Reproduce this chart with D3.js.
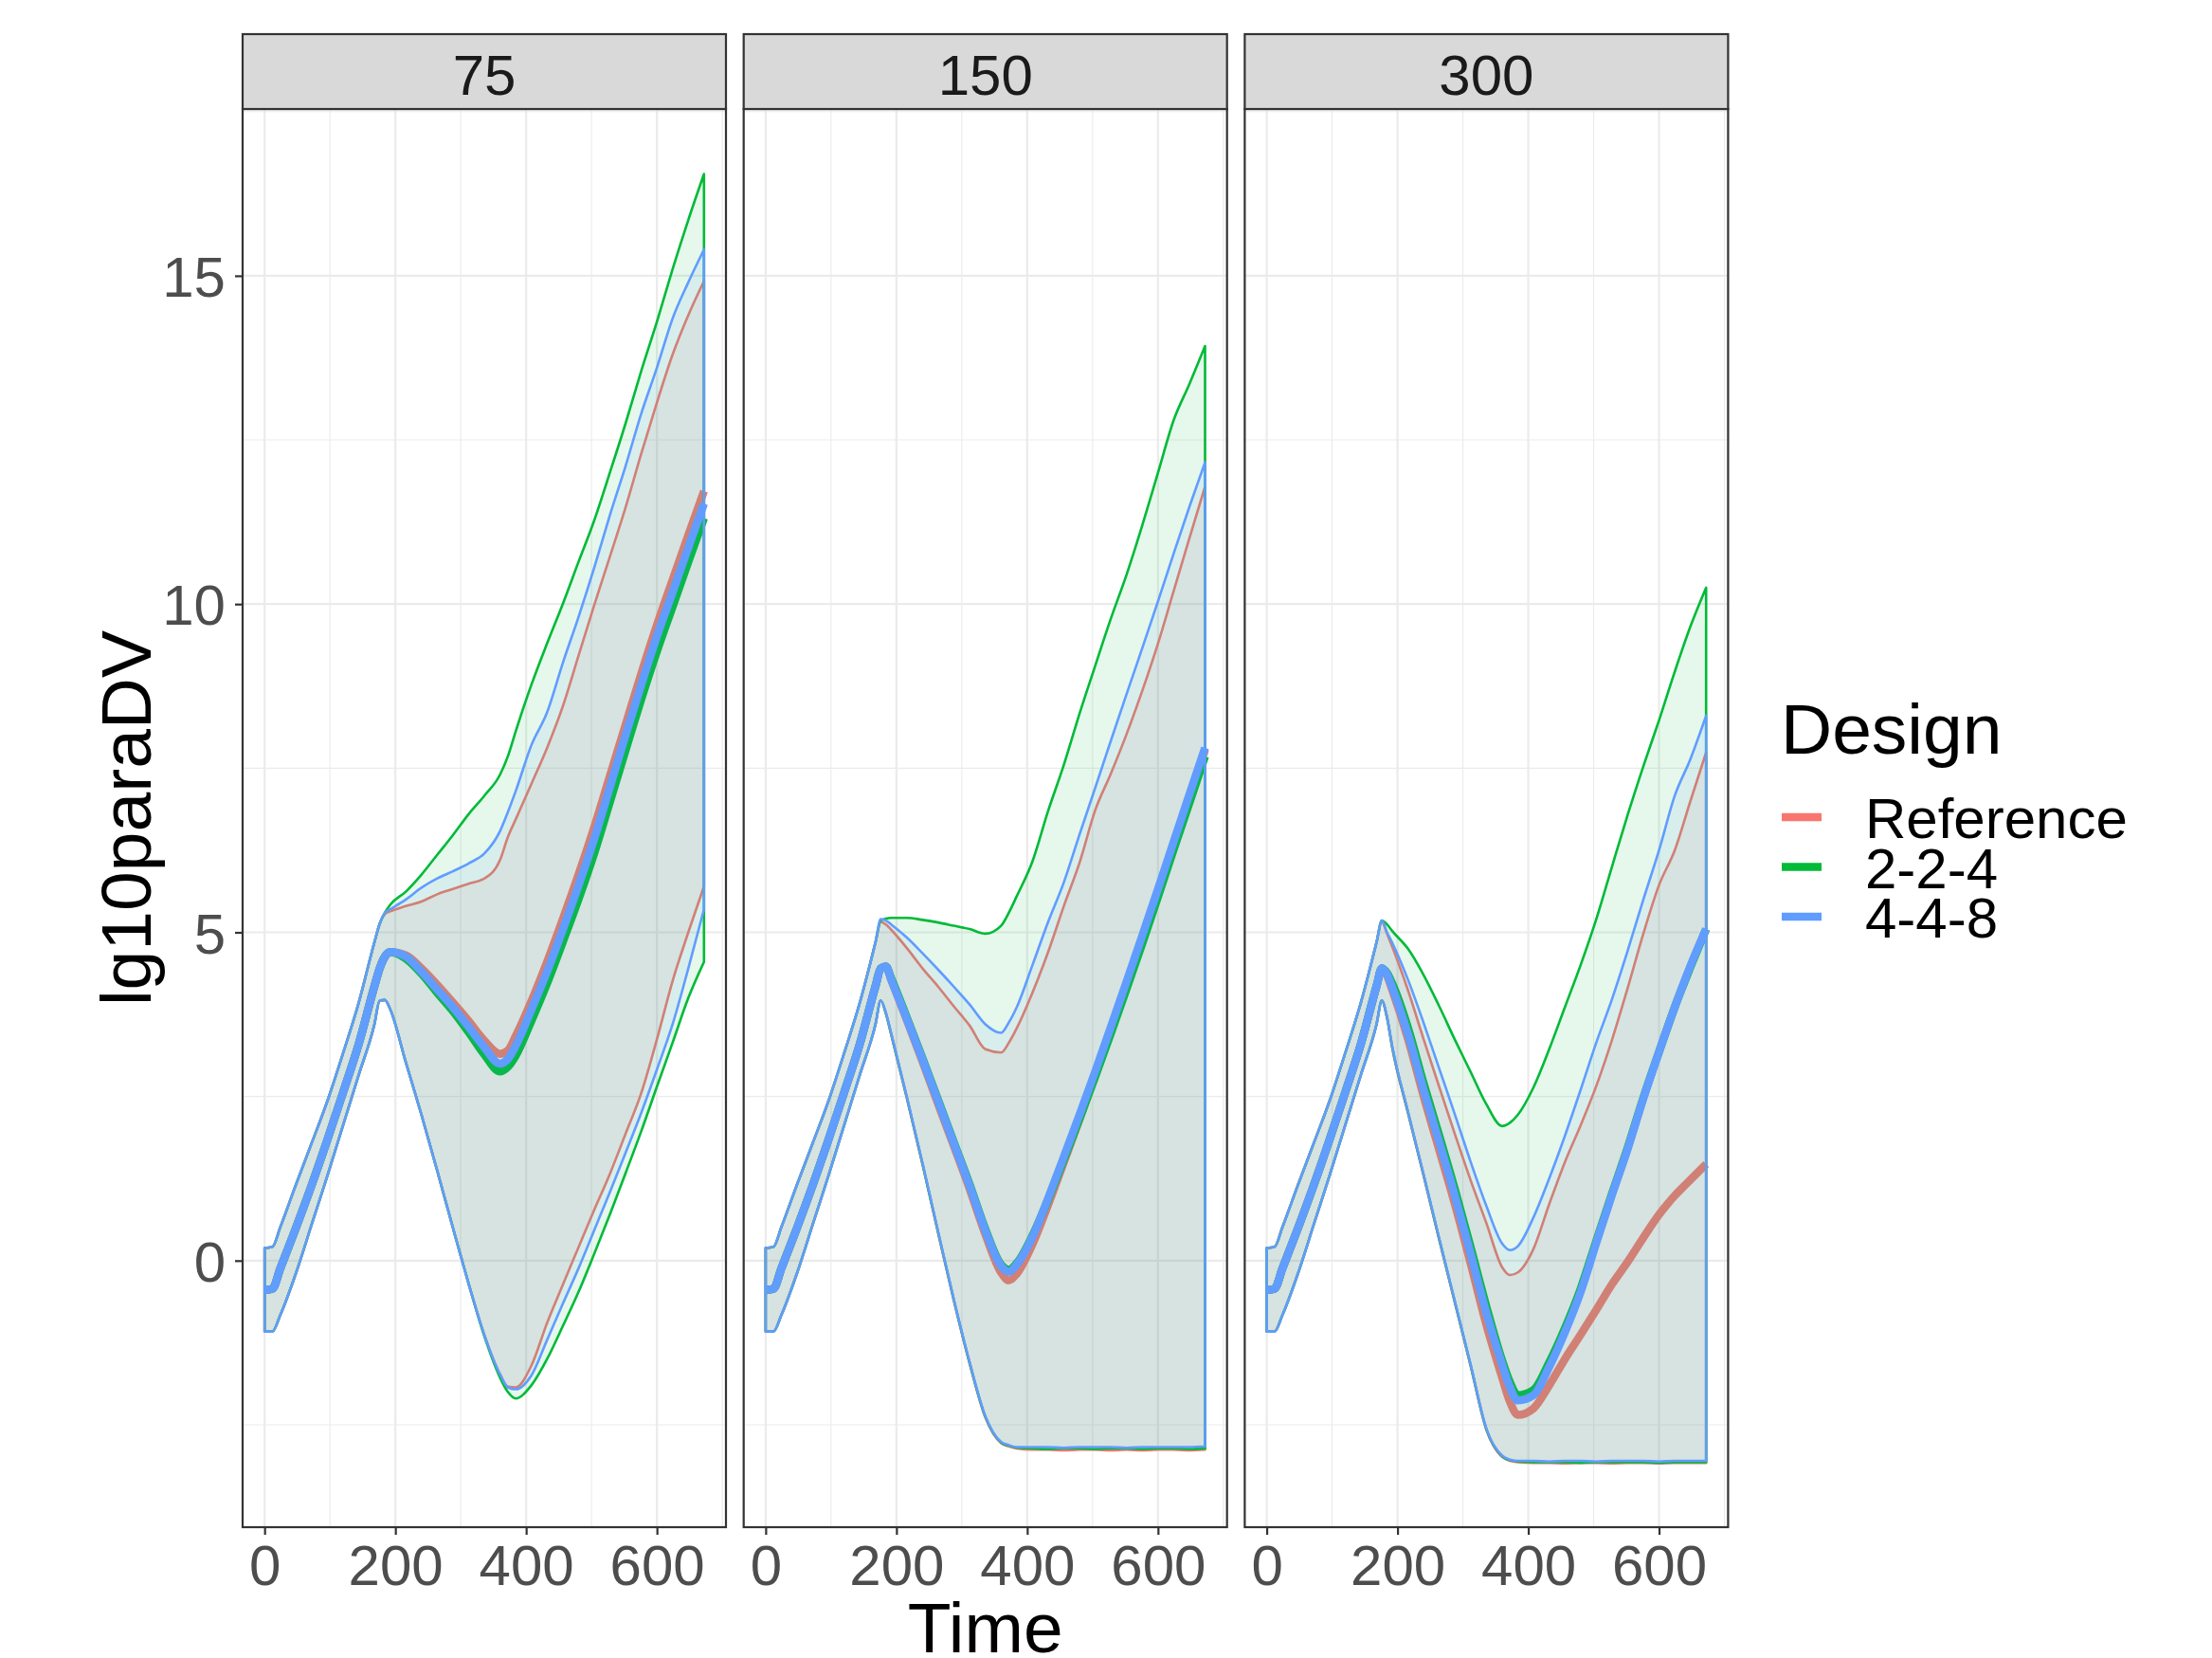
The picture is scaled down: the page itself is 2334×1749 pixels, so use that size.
<!DOCTYPE html>
<html>
<head>
<meta charset="utf-8">
<script src="https://cdn.jsdelivr.net/npm/d3@7"></script>
<style>
  body { margin: 0; background: #fff; }
  text { font-family: "Liberation Sans", Arial, sans-serif; }
</style>
</head>
<body>
<div id="chart"></div>
<script>
// time grid (h) the curves were read at
const times = [0, 12, 24, 48, 72, 96, 120, 144, 168, 176, 184, 192, 216, 240, 264, 288, 312, 336,
  360, 372, 384, 408, 432, 456, 480, 504, 528, 552, 576, 600, 624, 648, 672];

const doses = ["75", "150", "300"];
const designs = ["Reference", "2-2-4", "4-4-8"];
const designColors = ["#F8766D", "#00BA38", "#619CFF"];
const xBreaks = [0, 200, 400, 600];
const yBreaks = [0, 5, 10, 15];

// first 168 h are the same in every panel and design
const riseHi = [0.19, 0.21, 0.51, 1.16, 1.79, 2.43, 3.16, 3.93, 4.85];
const riseMed = [-0.45, -0.43, -0.12, 0.50, 1.15, 1.84, 2.56, 3.30, 4.18];
const riseLo = [-1.08, -1.08, -0.83, -0.19, 0.55, 1.29, 2.06, 2.83, 3.60];

// dose 75, from t = 176
const ref75Hi = [5.13, 5.28, 5.32, 5.40, 5.47, 5.58, 5.66, 5.74, 5.82, 6.10, 6.45, 6.72, 7.26, 7.81, 8.44, 9.21, 9.98, 10.72, 11.47, 12.29, 13.07, 13.80, 14.40, 14.92];
const ref75Med = [4.45, 4.63, 4.70, 4.65, 4.45, 4.20, 3.93, 3.65, 3.35, 3.15, 3.20, 3.42, 3.95, 4.55, 5.20, 5.88, 6.60, 7.38, 8.16, 8.94, 9.68, 10.37, 11.05, 11.72];
const ref75Lo = [3.96, 3.97, 3.83, 3.02, 2.22, 1.37, 0.50, -0.35, -1.13, -1.73, -1.92, -1.93, -1.60, -0.95, -0.37, 0.20, 0.77, 1.32, 1.93, 2.55, 3.37, 4.26, 5.00, 5.70];
const d224_75Hi = [5.13, 5.30, 5.42, 5.62, 5.88, 6.18, 6.48, 6.80, 7.08, 7.40, 7.68, 8.06, 8.77, 9.40, 10.00, 10.64, 11.27, 12.00, 12.75, 13.55, 14.30, 15.10, 15.85, 16.55];
const d224_75Med = [4.45, 4.63, 4.70, 4.60, 4.37, 4.08, 3.80, 3.48, 3.14, 2.88, 2.95, 3.12, 3.65, 4.22, 4.85, 5.50, 6.20, 6.98, 7.77, 8.55, 9.28, 9.96, 10.64, 11.31];
const d224_75Lo = [3.96, 3.97, 3.83, 3.02, 2.22, 1.37, 0.50, -0.35, -1.15, -1.78, -2.00, -2.10, -1.90, -1.50, -1.00, -0.48, 0.10, 0.70, 1.33, 1.97, 2.65, 3.32, 4.00, 4.55];
const d448_75Hi = [5.13, 5.30, 5.35, 5.50, 5.68, 5.82, 5.93, 6.05, 6.20, 6.54, 6.83, 7.15, 7.85, 8.35, 9.10, 9.80, 10.55, 11.35, 12.10, 12.90, 13.60, 14.35, 14.90, 15.40];
const d448_75Med = [4.45, 4.63, 4.70, 4.63, 4.40, 4.13, 3.86, 3.56, 3.25, 3.00, 3.07, 3.27, 3.82, 4.40, 5.04, 5.71, 6.42, 7.21, 8.00, 8.77, 9.51, 10.18, 10.86, 11.53];
const d448_75Lo = [3.96, 3.97, 3.83, 3.02, 2.22, 1.37, 0.50, -0.35, -1.13, -1.73, -1.93, -1.96, -1.75, -1.21, -0.66, -0.12, 0.46, 1.04, 1.64, 2.25, 2.91, 3.60, 4.45, 5.35];

// dose 150, from t = 176
const ref150Hi = [5.16, 5.12, 5.04, 4.76, 4.45, 4.17, 3.87, 3.58, 3.22, 3.17, 3.32, 3.54, 4.08, 4.70, 5.40, 6.06, 6.86, 7.42, 8.02, 8.68, 9.40, 10.20, 11.00, 11.79];
const ref150Med = [4.45, 4.48, 4.28, 3.66, 3.03, 2.38, 1.74, 1.09, 0.40, -0.18, -0.30, -0.20, 0.25, 0.85, 1.50, 2.15, 2.82, 3.50, 4.20, 4.90, 5.60, 6.33, 7.05, 7.78];
const ref150Lo = [3.96, 3.76, 3.44, 2.47, 1.46, 0.41, -0.62, -1.57, -2.39, -2.78, -2.83, -2.86, -2.88, -2.88, -2.89, -2.88, -2.88, -2.89, -2.88, -2.89, -2.88, -2.88, -2.89, -2.88];
const d224_150Hi = [5.18, 5.21, 5.22, 5.22, 5.19, 5.15, 5.10, 5.05, 4.98, 5.10, 5.30, 5.55, 6.08, 6.85, 7.55, 8.33, 9.06, 9.78, 10.45, 11.20, 12.00, 12.80, 13.35, 13.93];
const d224_150Med = [4.45, 4.48, 4.30, 3.70, 3.08, 2.44, 1.80, 1.16, 0.48, -0.06, -0.14, -0.04, 0.38, 0.93, 1.54, 2.16, 2.80, 3.46, 4.14, 4.83, 5.54, 6.26, 6.97, 7.68];
const d224_150Lo = [3.96, 3.76, 3.45, 2.48, 1.47, 0.42, -0.61, -1.56, -2.38, -2.77, -2.82, -2.85, -2.86, -2.87, -2.86, -2.86, -2.87, -2.86, -2.86, -2.87, -2.86, -2.86, -2.87, -2.86];
const d448_150Hi = [5.20, 5.18, 5.12, 4.92, 4.68, 4.43, 4.17, 3.90, 3.60, 3.47, 3.63, 3.86, 4.50, 5.16, 5.76, 6.49, 7.20, 7.92, 8.63, 9.33, 10.04, 10.77, 11.48, 12.16];
const d448_150Med = [4.45, 4.48, 4.28, 3.68, 3.06, 2.42, 1.78, 1.14, 0.46, -0.08, -0.17, -0.06, 0.36, 0.95, 1.58, 2.22, 2.88, 3.56, 4.25, 4.95, 5.66, 6.38, 7.10, 7.81];
const d448_150Lo = [3.96, 3.77, 3.46, 2.49, 1.48, 0.43, -0.60, -1.55, -2.37, -2.76, -2.81, -2.84, -2.84, -2.84, -2.85, -2.84, -2.84, -2.84, -2.85, -2.84, -2.84, -2.84, -2.84, -2.83];

// dose 300, from t = 176
const ref300Hi = [5.16, 4.98, 4.78, 4.12, 3.37, 2.64, 1.92, 1.22, 0.57, -0.10, -0.22, -0.18, 0.18, 0.86, 1.50, 2.06, 2.66, 3.36, 4.15, 4.98, 5.72, 6.25, 7.00, 7.74];
const ref300Med = [4.45, 4.34, 4.12, 3.38, 2.50, 1.68, 0.85, -0.05, -0.98, -1.78, -2.15, -2.35, -2.25, -1.90, -1.50, -1.13, -0.75, -0.36, -0.02, 0.35, 0.70, 0.99, 1.23, 1.47];
const ref300Lo = [3.96, 3.70, 3.24, 2.25, 1.29, 0.31, -0.65, -1.61, -2.58, -2.99, -3.05, -3.07, -3.08, -3.08, -3.09, -3.08, -3.08, -3.09, -3.08, -3.08, -3.09, -3.08, -3.08, -3.08];
const d224_300Hi = [5.18, 5.12, 5.02, 4.75, 4.35, 3.87, 3.36, 2.87, 2.38, 2.05, 2.10, 2.22, 2.64, 3.22, 3.86, 4.50, 5.20, 6.00, 6.79, 7.53, 8.23, 8.97, 9.66, 10.25];
const d224_300Med = [4.45, 4.38, 4.22, 3.55, 2.70, 1.90, 1.08, 0.20, -0.70, -1.52, -1.85, -2.05, -1.97, -1.55, -1.03, -0.43, 0.30, 1.02, 1.72, 2.48, 3.18, 3.86, 4.47, 5.05];
const d224_300Lo = [3.96, 3.70, 3.25, 2.26, 1.30, 0.32, -0.64, -1.60, -2.57, -2.98, -3.04, -3.06, -3.07, -3.07, -3.07, -3.08, -3.07, -3.07, -3.07, -3.07, -3.08, -3.07, -3.07, -3.07];
const d448_300Hi = [5.18, 5.00, 4.84, 4.28, 3.62, 2.92, 2.22, 1.50, 0.83, 0.26, 0.16, 0.22, 0.66, 1.25, 1.90, 2.60, 3.32, 3.98, 4.72, 5.50, 6.25, 7.08, 7.64, 8.30];
const d448_300Med = [4.45, 4.36, 4.16, 3.45, 2.60, 1.80, 0.98, 0.10, -0.80, -1.58, -1.93, -2.13, -2.05, -1.62, -1.09, -0.48, 0.27, 1.00, 1.70, 2.47, 3.18, 3.86, 4.49, 5.05];
const d448_300Lo = [3.96, 3.71, 3.26, 2.27, 1.31, 0.33, -0.63, -1.59, -2.56, -2.97, -3.03, -3.05, -3.05, -3.06, -3.05, -3.05, -3.06, -3.05, -3.05, -3.05, -3.06, -3.05, -3.05, -3.05];

const tails = {
  "75":  [[ref75Hi, ref75Med, ref75Lo], [d224_75Hi, d224_75Med, d224_75Lo], [d448_75Hi, d448_75Med, d448_75Lo]],
  "150": [[ref150Hi, ref150Med, ref150Lo], [d224_150Hi, d224_150Med, d224_150Lo], [d448_150Hi, d448_150Med, d448_150Lo]],
  "300": [[ref300Hi, ref300Med, ref300Lo], [d224_300Hi, d224_300Med, d224_300Lo], [d448_300Hi, d448_300Med, d448_300Lo]]
};

// long table: one row per dose/design/time
function buildRows(dose, k) {
  const [hi, med, lo] = tails[dose][k];
  const H = riseHi.concat(hi), M = riseMed.concat(med), L = riseLo.concat(lo);
  return times.map((t, i) => ({ t, hi: H[i], med: M[i], lo: L[i] }));
}

const W = 2334, Hgt = 1749;
const panelTop = 115, panelBottom = 1611, panelW = 510, panelGap = 18.7, left0 = 256;
const stripTop = 36;
const smallFont = 60, bigFont = 75;

const svg = d3.select("#chart").append("svg")
  .attr("width", W).attr("height", Hgt);
svg.append("rect").attr("width", W).attr("height", Hgt).attr("fill", "#fff");

const x = d3.scaleLinear().domain([-33.6, 705.6]).range([0, panelW]);
const y = d3.scaleLinear().domain([-4.06, 17.54]).range([panelBottom, panelTop]);
const color = d3.scaleOrdinal().domain(designs).range(designColors);

// minor breaks halfway between majors, like ggplot
function minors(b, dom) {
  const step = b[1] - b[0];
  const ext = [b[0] - step].concat(b, [b[b.length - 1] + step]);
  const out = [];
  for (let i = 0; i < ext.length - 1; i++) out.push((ext[i] + ext[i + 1]) / 2);
  return out.filter(v => v >= dom[0] && v <= dom[1]);
}
const xMinor = minors(xBreaks, x.domain());
const yMinor = minors(yBreaks, y.domain());

const area = d3.area()
  .x(d => x(d.t)).y0(d => y(d.lo)).y1(d => y(d.hi))
  .curve(d3.curveMonotoneX);
const line = d3.line()
  .x(d => x(d.t)).y(d => y(d.med))
  .curve(d3.curveMonotoneX);

doses.forEach((dose, i) => {
  const g = svg.append("g")
    .attr("transform", `translate(${left0 + i * (panelW + panelGap)},0)`);

  // grid
  g.selectAll(".ymin").data(yMinor).join("line")
    .attr("x1", 0).attr("x2", panelW).attr("y1", d => y(d)).attr("y2", d => y(d))
    .attr("stroke", "#ebebeb").attr("stroke-width", 1.1);
  g.selectAll(".xmin").data(xMinor).join("line")
    .attr("x1", d => x(d)).attr("x2", d => x(d)).attr("y1", panelTop).attr("y2", panelBottom)
    .attr("stroke", "#ebebeb").attr("stroke-width", 1.1);
  g.selectAll(".ymaj").data(yBreaks).join("line")
    .attr("x1", 0).attr("x2", panelW).attr("y1", d => y(d)).attr("y2", d => y(d))
    .attr("stroke", "#ebebeb").attr("stroke-width", 2.2);
  g.selectAll(".xmaj").data(xBreaks).join("line")
    .attr("x1", d => x(d)).attr("x2", d => x(d)).attr("y1", panelTop).attr("y2", panelBottom)
    .attr("stroke", "#ebebeb").attr("stroke-width", 2.2);

  // ribbons + medians, one design after another
  designs.forEach((des, k) => {
    const rows = buildRows(dose, k);
    g.append("path").datum(rows)
      .attr("d", area)
      .attr("fill", color(des)).attr("fill-opacity", 0.1)
      .attr("stroke", color(des)).attr("stroke-width", 2.6)
      .attr("stroke-linejoin", "round");
    g.append("path").datum(rows)
      .attr("d", line)
      .attr("fill", "none")
      .attr("stroke", color(des)).attr("stroke-width", 8.5)
      .attr("stroke-linejoin", "round");
  });

  // panel border
  g.append("rect")
    .attr("x", 0).attr("y", panelTop).attr("width", panelW).attr("height", panelBottom - panelTop)
    .attr("fill", "none").attr("stroke", "#333333").attr("stroke-width", 2.2);

  // strip
  g.append("rect")
    .attr("x", 0).attr("y", stripTop).attr("width", panelW).attr("height", panelTop - stripTop)
    .attr("fill", "#d9d9d9").attr("stroke", "#333333").attr("stroke-width", 2.2);
  g.append("text")
    .attr("x", panelW / 2).attr("y", 99.5)
    .attr("text-anchor", "middle")
    .attr("font-size", smallFont).attr("fill", "#1a1a1a")
    .text(dose);

  // x axis
  const ax = g.append("g")
    .attr("transform", `translate(0,${panelBottom})`)
    .call(d3.axisBottom(x).tickValues(xBreaks).tickSize(8).tickPadding(10).tickFormat(d3.format("d")));
  ax.select(".domain").remove();
  ax.selectAll("line").attr("stroke", "#333333").attr("stroke-width", 2.2);
  ax.selectAll("text").attr("font-size", smallFont).attr("fill", "#4d4d4d")
    .attr("font-family", "Liberation Sans, Arial, sans-serif");

  if (i === 0) {
    const ay = g.append("g")
      .call(d3.axisLeft(y).tickValues(yBreaks).tickSize(8).tickPadding(10).tickFormat(d3.format("d")));
    ay.select(".domain").remove();
    ay.selectAll("line").attr("stroke", "#333333").attr("stroke-width", 2.2);
    ay.selectAll("text").attr("font-size", smallFont).attr("fill", "#4d4d4d").attr("dy", "0.36em")
      .attr("font-family", "Liberation Sans, Arial, sans-serif");
  }
});

// axis titles
svg.append("text")
  .attr("transform", `translate(159,${(panelTop + panelBottom) / 2}) rotate(-90)`)
  .attr("text-anchor", "middle").attr("font-size", bigFont).attr("fill", "#000")
  .text("lg10paraDV");
svg.append("text")
  .attr("x", left0 + (3 * panelW + 2 * panelGap) / 2).attr("y", 1743)
  .attr("text-anchor", "middle").attr("font-size", bigFont).attr("fill", "#000")
  .text("Time");

// legend
const legend = svg.append("g").attr("transform", "translate(1879,0)");
legend.append("text").attr("x", 0).attr("y", 795)
  .attr("font-size", bigFont).attr("fill", "#000").text("Design");
designs.forEach((des, k) => {
  const cy = 862 + k * 52.5;
  legend.append("line")
    .attr("x1", 1).attr("x2", 43).attr("y1", cy).attr("y2", cy)
    .attr("stroke", color(des)).attr("stroke-width", 8.5);
  legend.append("text").attr("x", 89).attr("y", cy + 22)
    .attr("font-size", smallFont).attr("fill", "#000").text(des);
});
</script>
</body>
</html>
